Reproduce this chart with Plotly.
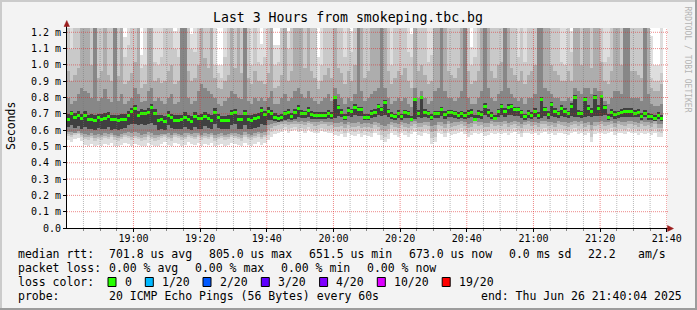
import plotly.graph_objects as go
import pandas as pd

# ---------------- data (values in microseconds) ----------------
TITLE = "Last 3 Hours from smokeping.tbc.bg"
Y_TICKS = [0.0, 0.1, 0.2, 0.3, 0.4, 0.5, 0.6, 0.7, 0.8, 0.9, 1.0, 1.1, 1.2]
Y_LABELS = ["0.0", "0.1 m", "0.2 m", "0.3 m", "0.4 m", "0.5 m", "0.6 m", "0.7 m",
            "0.8 m", "0.9 m", "1.0 m", "1.1 m", "1.2 m"]
X_TICK_TIMES = ["19:00", "19:20", "19:40", "20:00", "20:20", "20:40", "21:00", "21:20", "21:40"]
DAY = "2025-06-26"
RANGE_START = "2025-06-26 18:40:04"
RANGE_END = "2025-06-26 21:40:04"
FIRST_BIN = "2025-06-26 18:40:00"

MEDIAN = [
666,700,677,690,672,690,665,665,660,675,
665,670,685,663,665,660,668,668,690,715,
735,690,705,700,710,740,705,660,666,652,
692,675,662,662,668,680,665,655,685,670,
670,685,672,660,710,677,660,660,660,700,
708,666,666,700,666,660,670,678,720,695,
715,700,680,670,678,700,710,683,708,735,
705,700,720,695,692,692,692,692,705,692,
800,740,710,675,720,712,740,725,725,678,
680,705,708,742,725,770,712,692,682,705,
683,707,700,666,785,705,800,708,700,678,
700,700,725,695,707,707,700,690,700,692,
705,708,666,705,695,748,708,690,672,712,
745,715,740,745,725,725,707,682,705,692,
715,692,790,725,695,755,715,700,735,715,
700,748,800,705,700,790,735,715,800,735,
805,737,680,710,695,700,710,717,717,717,
705,710,685,705,685,682,672,690,673]

HI1 = [
1300,1300,1300,1300,1300,1300,1300,1300,1300,1300,
1300,1300,1300,1300,1300,1300,1300,1170,1300,1300,
1300,1300,1060,1300,1300,1300,1300,1300,1300,1300,
1300,1300,1210,1300,1300,1300,1300,1190,1300,1300,
1300,1300,1300,1300,1300,1000,1000,1300,1300,1300,
1300,1300,1300,1300,1300,1300,1300,1300,1130,1300,
1300,1300,1120,1120,1300,1300,1210,1300,1300,1300,
1300,1300,1300,1300,1300,1050,1300,1300,1300,1300,
1300,1300,1300,1300,1300,1210,1300,1300,1300,1300,
1300,1300,1300,1300,1300,1300,1300,1300,1300,1300,
1300,1300,1300,1190,1300,1300,1300,1300,1300,1300,
1300,1300,1300,1300,1300,1300,1300,1300,1300,1300,
1300,1110,1300,1300,1300,1300,1300,1300,1300,1300,
1300,1300,1300,1300,1300,1300,1300,1300,1300,1300,
1300,1300,1300,1300,1300,1300,1300,1300,1300,1300,
1300,1210,1300,1300,1300,1300,1300,1300,1300,1300,
1300,1300,1300,1300,1300,1300,1300,1300,1300,1300,
1300,1300,1300,1300,1300,1180,1000,1000,1300]

HI2 = [
1300,1100,1300,1300,1300,1300,1300,1300,1300,1300,
1300,1300,1300,1300,1300,1300,1300,1050,1120,1300,
1300,1300,980,1000,1300,1300,1020,1000,1050,1300,
1300,1300,1100,1050,1300,1300,1300,1100,1080,1300,
1300,1300,1300,1300,1000,950,920,1050,1300,1300,
1300,1300,1300,1300,1300,1000,1300,1020,1000,1050,
1300,1300,1000,1020,1300,1300,1100,1300,1300,1300,
1300,1300,1300,1300,1300,900,1000,1300,1300,1300,
1300,1300,1300,1050,1300,1080,1300,1300,1300,1300,
1300,1300,1300,1300,1300,1300,1300,1000,1300,1300,
1300,1300,1080,1050,1300,1300,1300,1300,1020,1060,
1300,1300,1300,1300,1300,1300,1300,1300,1300,1300,
1300,1000,1050,1300,1300,1300,1300,1300,1300,1300,
1300,1300,1300,1300,1300,1050,1300,1020,1300,1300,
1300,1300,1300,1300,1300,1300,1300,1300,1020,1000,
1300,1080,1300,1300,1300,1300,1300,1300,1300,1300,
1300,1020,1050,1300,1300,1300,1300,1300,1300,1300,
1300,1300,1300,1300,1300,920,900,900,950]

HI3 = [
960,900,940,980,1300,1300,1300,1000,1300,920,
960,1300,940,900,1300,930,1300,880,900,950,
1020,1300,860,880,1300,1300,900,920,890,900,
960,1000,880,900,1300,1300,960,900,920,1000,
1300,1040,980,1300,920,860,850,900,940,1300,
980,1300,950,1300,920,880,960,900,900,880,
950,1300,860,870,940,1300,900,960,1300,1300,
1300,980,1300,960,920,850,900,940,980,920,
1300,980,950,880,960,900,1000,1300,1300,920,
960,1300,1300,1300,1300,1300,960,880,920,960,
940,980,900,860,1300,960,1000,940,880,900,
1300,1300,1300,1300,960,940,920,980,1300,1300,
960,880,900,960,1300,1300,1300,960,920,1000,
1020,1300,1300,980,940,900,960,880,940,960,
1000,1300,1300,1300,1300,1000,960,940,900,900,
960,900,1300,1300,1000,1300,1300,980,1300,1300,
1020,900,880,960,1300,1300,1000,1300,1300,960,
960,940,920,1300,1300,860,840,840,880]

HI4 = [
800,760,780,820,860,840,830,800,1300,780,
800,850,790,770,1300,780,820,760,780,800,
860,820,770,780,840,860,780,800,780,760,
800,820,760,770,1300,1300,800,760,780,840,
880,860,840,820,800,760,750,780,800,840,
820,800,790,1300,780,760,800,780,800,780,
800,840,760,760,800,820,780,800,840,860,
820,800,840,800,780,760,780,800,820,780,
860,820,800,760,800,780,820,1300,840,780,
800,820,840,860,1300,860,800,760,780,800,
780,800,760,740,860,800,840,800,760,780,
840,860,1300,840,800,800,780,800,840,1300,
800,760,760,800,840,1300,860,800,780,820,
840,1300,860,820,800,780,800,760,800,800,
820,1300,1300,860,840,820,800,800,780,780,
800,780,860,840,820,860,860,820,860,840,
840,780,760,800,840,840,820,1300,1300,800,
800,800,780,1300,820,760,750,750,760]

HI5 = [
700,720,705,715,700,715,695,700,690,700,
700,705,710,695,690,695,700,700,715,735,
755,720,730,725,735,760,730,690,695,685,
715,700,690,690,695,710,690,685,710,695,
700,710,700,690,735,700,685,685,690,725,
730,695,695,725,690,690,700,705,745,720,
740,725,705,695,700,720,730,705,730,755,
725,720,740,715,710,712,712,712,725,712,
812,755,730,700,740,730,760,745,745,700,
700,725,728,760,745,785,730,712,700,722,
700,725,720,688,798,725,812,728,720,700,
720,720,742,715,725,725,720,710,720,712,
725,728,690,725,715,765,728,710,692,730,
762,735,758,762,745,745,725,700,725,712,
735,712,803,745,715,772,735,720,752,735,
720,765,813,725,720,803,752,735,813,752,
818,755,700,728,715,720,728,735,735,735,
725,728,705,725,705,700,692,710,692]

LO5 = [
620,630,615,628,610,618,605,610,600,615,
605,610,620,600,605,598,610,615,630,640,
640,630,635,630,640,645,630,600,605,598,
630,615,605,605,610,620,605,598,620,610,
610,625,615,605,635,615,610,605,610,630,
635,610,610,630,610,605,615,620,640,630,
660,665,655,650,655,665,670,660,670,680,
675,672,678,670,668,668,668,670,675,668,
672,685,680,660,685,680,690,685,685,660,
662,675,678,690,685,690,680,670,665,675,
665,675,672,655,670,678,675,680,672,662,
672,672,685,668,678,678,672,668,672,668,
675,678,655,675,670,690,680,668,660,680,
690,682,690,690,685,685,675,665,675,668,
682,668,675,685,670,685,680,672,688,680,
672,688,680,678,672,680,688,680,685,688,
688,690,662,680,670,672,680,682,682,682,
678,680,665,678,665,662,658,668,658]

LO4 = [
590,588,585,595,580,575,572,580,568,575,
572,580,575,583,570,565,575,585,588,580,
588,580,572,575,588,585,572,570,575,575,
580,572,580,578,572,580,583,575,580,583,
572,580,578,583,572,577,580,572,577,583,
583,577,572,588,577,572,580,588,585,588,
630,640,645,648,652,655,650,652,655,652,
655,650,658,652,648,650,655,652,648,650,
645,642,650,638,652,645,642,650,638,645,
642,638,652,645,632,628,635,652,645,640,
652,645,640,648,655,645,642,652,648,625,
630,652,648,640,655,645,650,652,655,648,
640,645,655,648,652,642,645,655,648,652,
648,655,645,652,658,648,640,652,655,648,
652,645,655,658,648,652,645,655,652,648,
645,652,658,648,655,645,652,632,648,652,
655,648,652,658,645,655,652,648,658,655,
652,645,655,648,652,645,655,640,638]

LO3 = [
575,570,580,585,570,558,555,565,550,560,
555,565,560,570,555,550,560,570,565,555,
565,560,550,555,570,560,550,555,565,570,
560,550,570,565,555,560,570,565,560,570,
555,565,560,570,550,560,565,555,560,570,
565,560,550,570,560,555,565,575,560,570,
600,615,625,630,635,640,630,638,640,635,
640,630,642,635,628,630,638,635,628,630,
622,618,628,612,630,622,618,628,612,622,
618,612,630,622,600,595,605,630,622,612,
630,622,612,626,640,622,618,630,626,590,
595,630,626,612,635,622,628,630,640,626,
612,622,635,626,630,618,622,635,626,630,
626,635,622,630,640,626,612,630,635,626,
630,622,635,640,626,630,622,635,630,626,
622,630,640,626,635,622,630,600,626,630,
635,626,630,640,622,635,630,626,640,635,
630,622,635,626,630,622,635,615,612]

LO2 = [
565,560,570,575,560,545,540,550,535,545,
540,550,545,555,540,535,545,555,550,540,
550,545,535,540,555,545,535,540,550,560,
545,535,555,550,540,545,560,550,545,555,
540,550,545,555,535,545,550,540,545,555,
550,545,535,555,545,540,550,560,545,555,
570,590,600,605,610,620,605,615,620,610,
615,605,620,610,600,605,615,610,600,605,
595,590,600,585,605,595,590,600,585,595,
590,585,605,595,570,560,575,605,595,585,
605,595,585,600,615,595,590,605,600,550,
560,605,600,585,610,595,600,605,615,600,
585,595,610,600,605,590,595,610,600,605,
600,610,595,605,615,600,585,605,610,600,
605,595,610,615,600,605,595,610,605,600,
595,605,615,600,610,595,605,560,600,605,
610,600,605,615,595,610,605,600,615,610,
605,595,610,600,605,595,610,590,585]

LO1 = [
540,530,545,550,535,510,505,515,500,510,
505,515,510,520,505,500,510,520,515,505,
515,510,500,505,520,510,500,505,515,525,
510,500,520,515,505,510,525,515,510,520,
505,515,510,520,500,510,515,505,510,520,
515,510,500,520,510,505,515,525,510,520,
540,560,575,580,590,600,585,595,600,590,
595,585,600,590,580,585,595,590,580,585,
570,565,575,560,580,570,565,575,560,570,
565,560,580,570,540,530,545,580,570,560,
580,570,560,575,590,570,565,580,575,515,
525,580,575,560,585,570,575,580,590,575,
560,570,585,575,580,565,570,585,575,580,
575,585,570,580,590,575,560,580,585,575,
580,570,585,590,575,580,570,585,580,575,
570,580,590,575,585,570,580,525,575,580,
585,575,580,590,570,585,580,575,590,585,
580,570,585,575,580,570,585,560,555]

LEGEND_ROWS = [
    [("median rtt:", 16), ("701.8 us avg", 107), ("805.0 us max", 207), ("651.5 us min", 307),
     ("673.0 us now", 407), ("0.0 ms sd", 507), ("22.2", 585.5), ("am/s", 636)],
    [("packet loss:", 16), ("0.00 % avg", 107), ("0.00 % max", 193), ("0.00 % min", 279),
     ("0.00 % now", 365)],
    [("loss color:", 16)],
    [("probe:", 16), ("20 ICMP Echo Pings (56 Bytes) every 60s", 107),
     ("end: Thu Jun 26 21:40:04 2025", 478.5)],
]
LOSS_LABELS = ["0", "1/20", "2/20", "3/20", "4/20", "10/20", "19/20"]
LOSS_COLORS = ["#26ff00", "#00b8ff", "#0059ff", "#5e00ff", "#7e00ff", "#dd00ff", "#ff0000"]
LOSS_BOX_X = [108, 145.3, 203, 261.3, 319.6, 377.3, 442.2]
LOSS_TEXT_X = [123.3, 160.2, 217.8, 275.8, 333.5, 391.8, 456.6]

n = len(MEDIAN)
for arr in (HI1, HI2, HI3, HI4, HI5, LO1, LO2, LO3, LO4, LO5):
    assert len(arr) == n, len(arr)

# ---------------- geometry ----------------
W_IMG, H_IMG = 697, 310
L, R, T, B = 67, 667, 28, 228
PW, PH = R - L, B - T
Y_MAX = 1.2263
FONT = "DejaVu Sans Mono"


def PX(p):
    return (p - L) / PW


def PY(p):
    return (B - p) / PH


t0 = pd.Timestamp(FIRST_BIN)
xs = [(t0 + pd.Timedelta(seconds=30 + 60 * k)).strftime("%Y-%m-%d %H:%M:%S") for k in range(n)]

fig = go.Figure()
layers = [(LO1, HI1, "#dedede"), (LO2, HI2, "#c9c9c9"), (LO3, HI3, "#adadad"),
          (LO4, HI4, "#878787"), (LO5, HI5, "#404040")]
for lo, hi, col in layers:
    fig.add_trace(go.Bar(
        x=xs, base=[v / 1000 for v in lo], y=[(h - l) / 1000 for l, h in zip(lo, hi)],
        width=60000, marker=dict(color=col, line=dict(width=0)),
        hoverinfo="skip", showlegend=False))

thick = 3.0 / PH * Y_MAX
fig.add_trace(go.Bar(
    x=xs, base=[m / 1000 - thick / 2 for m in MEDIAN], y=[thick] * n,
    width=60000, marker=dict(color=LOSS_COLORS[0], line=dict(width=0)),
    hoverinfo="skip", showlegend=False))

shapes = []
# grid on top of smoke
major_times = [f"{DAY} {t}:00" for t in X_TICK_TIMES]
t = pd.Timestamp(f"{DAY} 18:45:00")
minor_times = []
while t <= pd.Timestamp(RANGE_END):
    s = t.strftime("%Y-%m-%d %H:%M:%S")
    if s not in major_times:
        minor_times.append(s)
    t += pd.Timedelta(minutes=5)

for s in minor_times:
    shapes.append(dict(type="line", xref="x", yref="paper", x0=s, x1=s, y0=0, y1=1,
                       line=dict(color="rgba(120,120,120,0.5)", width=1, dash="1px,1px"), layer="above"))
for s in major_times:
    shapes.append(dict(type="line", xref="x", yref="paper", x0=s, x1=s, y0=0, y1=1,
                       line=dict(color="rgba(220,40,40,0.55)", width=1, dash="1px,1px"), layer="above"))
for v in Y_TICKS[1:]:
    shapes.append(dict(type="line", xref="paper", yref="y", x0=0, x1=PX(668), y0=v, y1=v,
                       line=dict(color="rgba(220,40,40,0.55)", width=1, dash="1px,1px"), layer="above"))

# axis lines + arrows
shapes.append(dict(type="line", xref="paper", yref="paper", x0=PX(66.5), x1=PX(66.5), y0=PY(228.5), y1=PY(23),
                   line=dict(color="black", width=1), layer="above"))
shapes.append(dict(type="line", xref="paper", yref="paper", x0=PX(66), x1=PX(670), y0=PY(228.5), y1=PY(228.5),
                   line=dict(color="black", width=1), layer="above"))
ARROW = "#9b1c1c"


def tri(pts):
    p = "M " + " L ".join(f"{PX(a)},{PY(b)}" for a, b in pts) + " Z"
    return dict(type="path", xref="paper", yref="paper", path=p, fillcolor=ARROW,
                line=dict(color=ARROW, width=0.5), layer="above")


shapes.append(tri([(64, 26.5), (69.5, 26.5), (66.75, 20.5)]))
shapes.append(tri([(667.5, 225.5), (667.5, 231.5), (673.5, 228.5)]))

# frame of the picture
shapes.append(dict(type="rect", xref="paper", yref="paper", x0=PX(0), x1=PX(697), y0=PY(2), y1=PY(0),
                   fillcolor="#cbcbcb", line=dict(width=0), layer="above"))
shapes.append(dict(type="rect", xref="paper", yref="paper", x0=PX(0), x1=PX(2), y0=PY(310), y1=PY(0),
                   fillcolor="#cbcbcb", line=dict(width=0), layer="above"))
shapes.append(dict(type="rect", xref="paper", yref="paper", x0=PX(0), x1=PX(697), y0=PY(310), y1=PY(308),
                   fillcolor="#9c9c9c", line=dict(width=0), layer="above"))
shapes.append(dict(type="rect", xref="paper", yref="paper", x0=PX(695), x1=PX(697), y0=PY(310), y1=PY(0),
                   fillcolor="#9c9c9c", line=dict(width=0), layer="above"))

# loss colour boxes
for bx, col in zip(LOSS_BOX_X, LOSS_COLORS):
    shapes.append(dict(type="rect", xref="paper", yref="paper", x0=PX(bx), x1=PX(bx + 8),
                       y0=PY(286.5), y1=PY(277.5), fillcolor=col,
                       line=dict(color="black", width=1), layer="above"))

annotations = []
annotations.append(dict(text=TITLE, x=PX(348), y=PY(18), xref="paper", yref="paper",
                        showarrow=False, xanchor="center", yanchor="middle",
                        font=dict(family=FONT, size=13.2, color="black")))
annotations.append(dict(text="Seconds", x=PX(11), y=PY(126), xref="paper", yref="paper",
                        showarrow=False, xanchor="center", yanchor="middle", textangle=-90,
                        font=dict(family=FONT, size=11.5, color="black")))
annotations.append(dict(text="RRDTOOL / TOBI OETIKER", x=PX(687.5), y=PY(59), xref="paper", yref="paper",
                        showarrow=False, xanchor="center", yanchor="middle", textangle=90,
                        font=dict(family=FONT, size=8, color="#b4b4b4")))
ROW_Y = [254.3, 268.3, 282, 296.3]
for row, yy in zip(LEGEND_ROWS, ROW_Y):
    for txt, xx in row:
        annotations.append(dict(text=txt, x=PX(xx), y=PY(yy), xref="paper", yref="paper",
                                showarrow=False, xanchor="left", yanchor="middle",
                                font=dict(family=FONT, size=11.5, color="black")))
for txt, xx in zip(LOSS_LABELS, LOSS_TEXT_X):
    annotations.append(dict(text=txt, x=PX(xx), y=PY(ROW_Y[2]), xref="paper", yref="paper",
                            showarrow=False, xanchor="left", yanchor="middle",
                            font=dict(family=FONT, size=11.5, color="black")))

fig.update_layout(
    template="none",
    width=W_IMG, height=H_IMG, autosize=False,
    margin=dict(l=L, r=W_IMG - R, t=T, b=H_IMG - B, pad=0),
    paper_bgcolor="#f3f3f3", plot_bgcolor="white",
    barmode="overlay", bargap=0,
    showlegend=False,
    shapes=shapes, annotations=annotations,
    xaxis=dict(type="date", range=[RANGE_START, RANGE_END], tickmode="array",
               tickvals=major_times, ticktext=X_TICK_TIMES,
               ticks="outside", ticklen=3, tickcolor="black", tickwidth=1,
               ticklabelstandoff=-2,
               showgrid=False, showline=False, zeroline=False, automargin=False,
               tickfont=dict(family=FONT, size=10, color="black"),
               minor=dict(tickvals=minor_times, ticks="outside", ticklen=2,
                          tickcolor="#888888", showgrid=False),
               fixedrange=True),
    yaxis=dict(range=[0, Y_MAX], tickmode="array", tickvals=Y_TICKS, ticktext=Y_LABELS,
               ticks="outside", ticklen=3, tickcolor="black", tickwidth=1,
               showgrid=False, showline=False, zeroline=False, automargin=False,
               tickfont=dict(family=FONT, size=10, color="black"),
               fixedrange=True),
)

fig.write_html("out.html", config={"displayModeBar": False})
